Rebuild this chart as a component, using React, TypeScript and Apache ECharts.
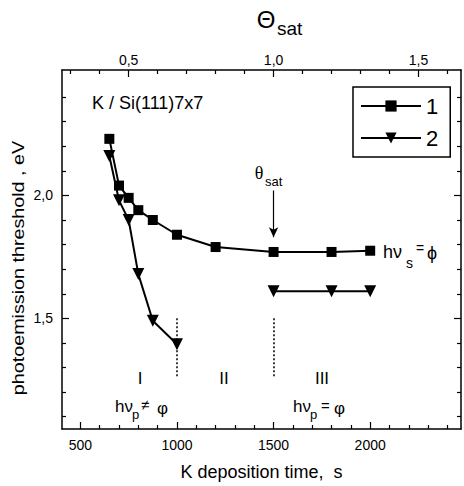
import React, { useEffect, useRef } from "react";
import * as echarts from "echarts";

// ---- axes ----
const X_MIN = 405;
const X_MAX = 2470;
const Y_MIN = 1.05;
const Y_MAX = 2.51;
const THETA_SAT_TIME = 1500; // deposition time that corresponds to Θ = 1

const xMajorTicks = [500, 1000, 1500, 2000];
const thetaMajorTicks = [0.5, 1.0, 1.5];
const yMajorTicks = [1.5, 2.0];

const xMinorTicks: number[] = [];
for (let t = 600; t <= 2400; t += 100) if (!xMajorTicks.includes(t)) xMinorTicks.push(t);
const thetaMinorTicks: number[] = [];
for (let i = 3; i <= 16; i++) {
  const v = i / 10;
  if (!thetaMajorTicks.includes(v)) thetaMinorTicks.push(v);
}
const yMinorTicks: number[] = [];
for (let i = 11; i <= 24; i++) {
  const v = i / 10;
  if (!yMajorTicks.includes(v)) yMinorTicks.push(v);
}

// ---- data ----
const time1 = [650, 700, 750, 800, 875, 1000, 1200, 1500, 1800, 2000];
const threshold1 = [2.23, 2.04, 1.99, 1.94, 1.9, 1.84, 1.79, 1.77, 1.77, 1.775];

const time2Low = [650, 700, 750, 800, 875, 1000];
const threshold2Low = [2.16, 1.98, 1.9, 1.68, 1.49, 1.395];
const time2Sat = [1500, 1800, 2000];
const threshold2Sat = [1.61, 1.61, 1.61];

const FONT = "'Liberation Sans', Arial, Helvetica, sans-serif";
const SERIF = "'Liberation Serif', 'DejaVu Serif', serif";
const INK = "#000";

const comma = (v: number) => v.toFixed(1).replace(".", ",");

const T = (x: number, y: number, text: string, size: number, extra: any = {}) => ({
  type: "text",
  x,
  y,
  silent: true,
  style: {
    text,
    fontSize: size,
    fontFamily: FONT,
    fill: INK,
    align: "left",
    verticalAlign: "middle",
    ...extra,
  },
});

const tickAxis = (base: any, values: number[], len: number, labels: boolean, fmt?: (v: number) => string, labelMargin = 8) => ({
  ...base,
  splitLine: { show: false },
  axisLine: { show: labels, onZero: false, lineStyle: { color: INK, width: 1.5 } },
  axisTick: { show: true, inside: true, length: len, customValues: values, lineStyle: { color: INK, width: 1.2 } },
  axisLabel: labels
    ? {
        show: true,
        customValues: values,
        formatter: fmt,
        color: INK,
        fontSize: 14,
        fontFamily: FONT,
        margin: labelMargin,
      }
    : { show: false },
});

export default function App() {
  const ref = useRef<HTMLDivElement>(null);
  useEffect(() => {
    document.body.style.margin = "0";
    if (!ref.current) return;
    const chart = echarts.init(ref.current, undefined, { renderer: "svg" });

    const xBase = { type: "value", min: X_MIN, max: X_MAX, position: "bottom" };
    const thetaBase = {
      type: "value",
      min: X_MIN / THETA_SAT_TIME,
      max: X_MAX / THETA_SAT_TIME,
      position: "top",
    };
    const yBaseL = { type: "value", min: Y_MIN, max: Y_MAX, position: "left" };
    const yBaseR = { type: "value", min: Y_MIN, max: Y_MAX, position: "right" };

    const lineStyle = { color: INK, width: 2 };

    chart.setOption({
      animation: false,
      grid: { left: 62, right: 3, top: 70, bottom: 51, containLabel: false },
      xAxis: [
        {
          ...tickAxis(xBase, xMajorTicks, 7, true, (v: number) => String(v), 9),
          name: "K deposition time,  s",
          nameLocation: "middle",
          nameGap: 34,
          nameTextStyle: { fontSize: 18, fontFamily: FONT, color: INK },
        },
        tickAxis(xBase, xMinorTicks, 4, false),
        tickAxis(thetaBase, thetaMajorTicks, 7, true, comma, 3),
        tickAxis(thetaBase, thetaMinorTicks, 4, false),
      ],
      yAxis: [
        tickAxis(yBaseL, yMajorTicks, 7, true, comma, 9),
        tickAxis(yBaseL, yMinorTicks, 4, false),
        { ...tickAxis(yBaseR, yMajorTicks, 7, false), axisLine: { show: true, onZero: false, lineStyle: { color: INK, width: 1.5 } } },
        tickAxis(yBaseR, yMinorTicks, 4, false),
      ],
      legend: {
        data: ["1", "2"],
        orient: "vertical",
        left: 353,
        top: 87,
        itemWidth: 60,
        itemHeight: 14,
        itemGap: 10,
        padding: [8, 12, 8, 7],
        borderColor: INK,
        borderWidth: 1.5,
        selectedMode: false,
        textStyle: { fontSize: 22, color: INK, fontFamily: FONT },
      },
      series: [
        {
          name: "1",
          type: "line",
          xAxisIndex: 0,
          yAxisIndex: 0,
          data: time1.map((t, i) => [t, threshold1[i]]),
          symbol: "rect",
          symbolSize: 10,
          itemStyle: { color: INK },
          lineStyle,
          markLine: {
            silent: true,
            symbol: ["none", "arrow"],
            symbolSize: [7, 10],
            label: { show: false },
            lineStyle: { color: INK, width: 1.2, type: "solid" },
            data: [[{ coord: [THETA_SAT_TIME, 2.02] }, { coord: [THETA_SAT_TIME, 1.83] }]],
          },
        },
        {
          name: "2",
          type: "line",
          xAxisIndex: 0,
          yAxisIndex: 0,
          data: time2Low.map((t, i) => [t, threshold2Low[i]]),
          symbol: "triangle",
          symbolRotate: 180,
          symbolSize: 12,
          itemStyle: { color: INK },
          lineStyle,
          markLine: {
            silent: true,
            symbol: ["none", "none"],
            label: { show: false },
            lineStyle: { color: INK, width: 1.5, type: [2, 2] },
            data: [
              [{ coord: [1000, 1.5] }, { coord: [1000, 1.26] }],
              [{ coord: [THETA_SAT_TIME, 1.5] }, { coord: [THETA_SAT_TIME, 1.26] }],
            ],
          },
        },
        {
          name: "2",
          type: "line",
          xAxisIndex: 0,
          yAxisIndex: 0,
          data: time2Sat.map((t, i) => [t, threshold2Sat[i]]),
          symbol: "triangle",
          symbolRotate: 180,
          symbolSize: 12,
          itemStyle: { color: INK },
          lineStyle,
        },
      ],
      graphic: [
        T(92, 103, "K / Si(111)7x7", 18),
        T(266, 19, "Θ", 24, { align: "center" }),
        T(277, 28, "sat", 19),
        T(259, 173, "θ", 18, { align: "center", fontFamily: SERIF }),
        T(265, 181, "sat", 13),
        // hν_s = ϕ
        T(383, 252, "hν", 18),
        T(406, 263, "s", 14),
        T(416, 248, "=", 14),
        T(427, 253, "ϕ", 18),
        // hν_p ≠ φ
        T(115, 406, "hν", 17),
        T(132, 414, "p", 13),
        T(141, 404, "≠", 15),
        T(157, 408, "φ", 17),
        // hν_p = φ
        T(293, 406, "hν", 17),
        T(310, 414, "p", 13),
        T(321, 405, "=", 15),
        T(334, 408, "φ", 17),
        // regions
        T(140, 378, "I", 17, { align: "center" }),
        T(224, 378, "II", 17, { align: "center" }),
        T(322, 378, "III", 17, { align: "center" }),
        {
          type: "text",
          x: 18,
          y: 268,
          rotation: Math.PI / 2,
          scaleX: 1.16,
          silent: true,
          style: {
            text: "photoemission threshold , eV",
            fontSize: 17,
            fontFamily: FONT,
            fill: INK,
            align: "center",
            verticalAlign: "middle",
          },
        },
      ],
    });
    return () => chart.dispose();
  }, []);
  return <div ref={ref} style={{ position: "absolute", left: 0, top: 0, width: 464, height: 486 }} />;
}
